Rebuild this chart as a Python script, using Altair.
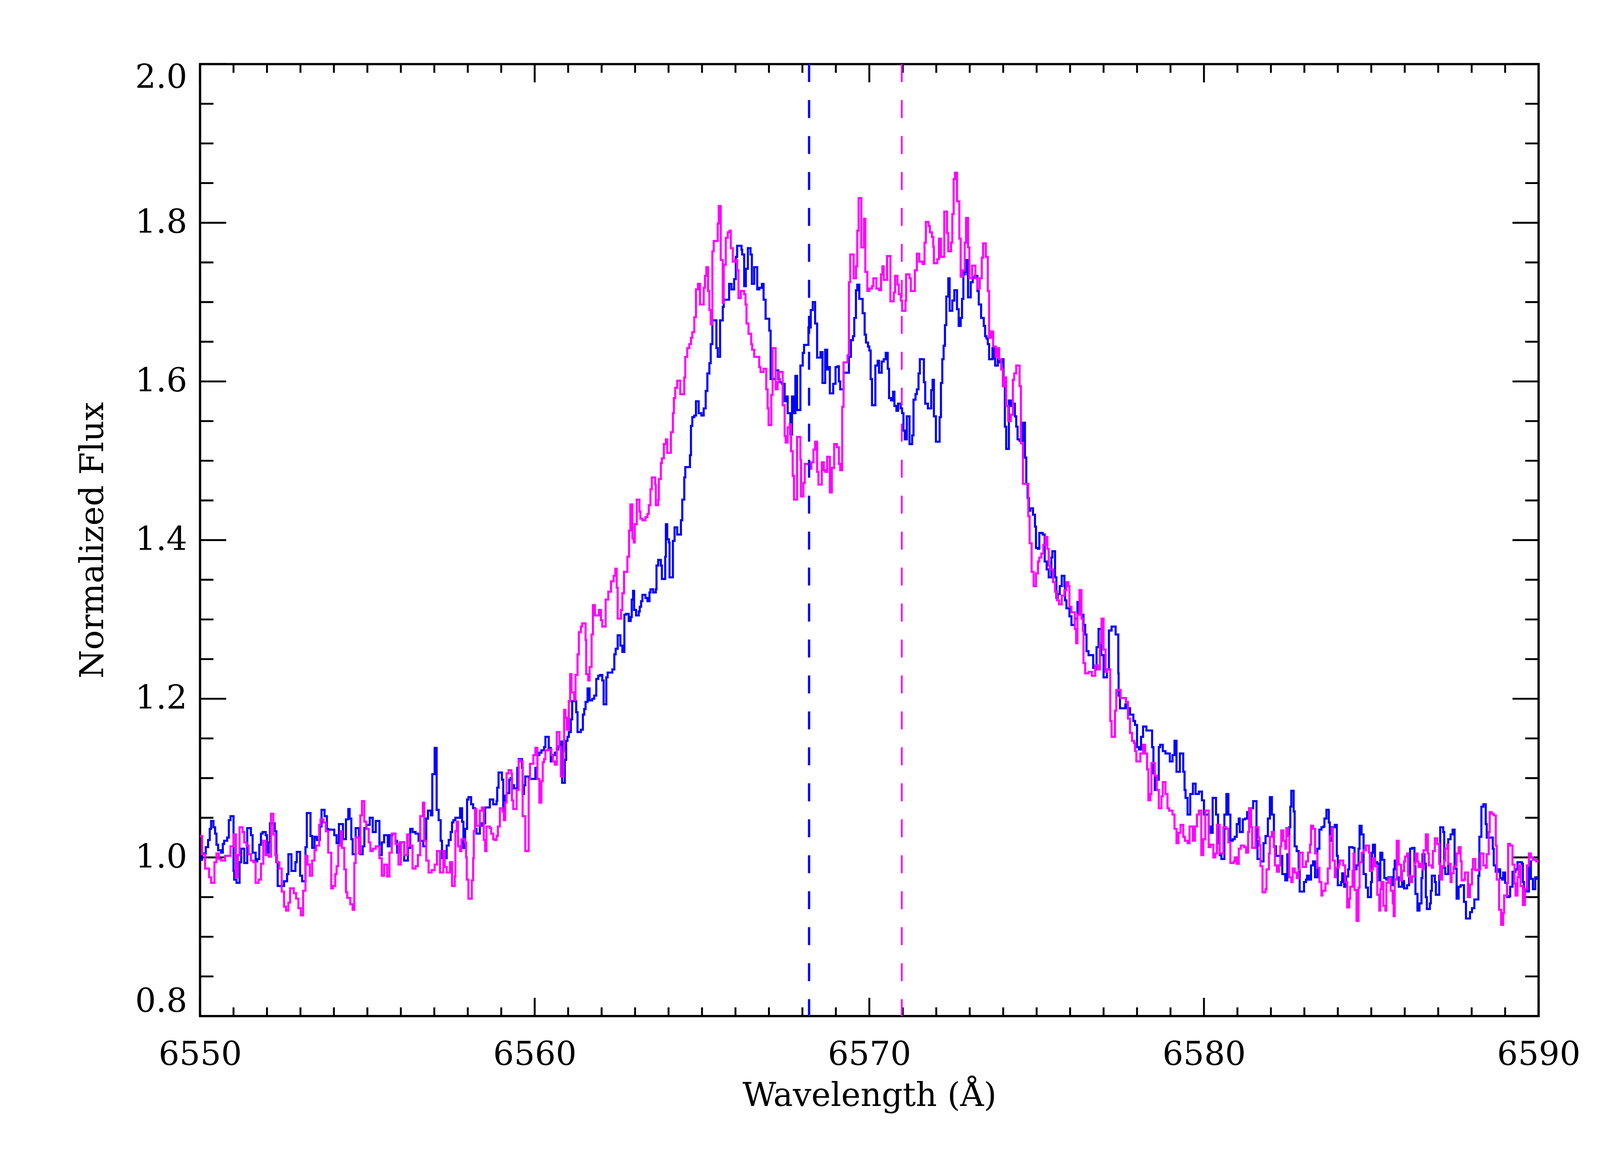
import altair as alt
import pandas as pd

# ---- blue spectrum: [wavelength (A), normalized flux] step starts ----
BLUE_A = [[6550.00,0.997],[6550.06,1.005],[6550.17,1.013],[6550.24,1.022],[6550.29,1.036],[6550.33,1.046],
[6550.40,1.038],[6550.45,1.030],[6550.49,1.016],[6550.54,1.009],[6550.63,1.006],[6550.68,1.017],[6550.72,1.021],
[6550.81,1.025],[6550.86,1.047],[6550.91,1.052],[6551.00,0.983],[6551.02,0.972],[6551.09,0.968],[6551.18,0.994],
[6551.23,1.011],[6551.32,0.993],[6551.41,1.037],[6551.52,1.028],[6551.57,1.006],[6551.66,0.995],[6551.71,0.998],
[6551.77,1.016],[6551.82,1.030],[6551.87,1.032],[6551.96,1.028],[6552.00,1.006],[6552.05,1.019],[6552.09,1.043],
[6552.23,1.033],[6552.28,0.994],[6552.32,0.964],[6552.51,0.970],[6552.60,0.979],[6552.64,1.004],[6552.73,0.983],
[6552.85,0.994],[6552.89,1.007],[6552.99,0.977],[6553.05,0.970],[6553.15,1.013],[6553.19,1.056],[6553.30,1.027],
[6553.35,1.012],[6553.42,1.026],[6553.49,1.022],[6553.58,1.039],[6553.63,1.060],[6553.72,1.052],[6553.79,1.036],
[6553.83,1.035],[6554.01,1.028],[6554.08,1.018],[6554.15,1.042],[6554.27,1.023],[6554.36,1.048],[6554.43,1.061],
[6554.47,1.049],[6554.52,1.023],[6554.56,1.004],[6554.65,1.037],[6554.75,1.019],[6554.79,1.004],[6554.86,1.014],
[6554.91,1.037],[6554.97,1.041],[6555.07,1.050],[6555.16,1.032],[6555.25,1.046],[6555.36,1.003],[6555.43,1.019],
[6555.50,1.028],[6555.61,1.014],[6555.66,1.028],[6555.75,1.030],[6555.84,1.021],[6555.89,1.006],[6555.98,1.019],
[6556.10,0.996],[6556.21,1.012],[6556.28,1.036],[6556.35,1.032],[6556.44,1.030],[6556.53,1.021],[6556.67,1.014],
[6556.76,1.049],[6556.81,1.059],[6556.90,1.053],[6556.94,1.105],[6557.01,1.138]]
BLUE_B = [[6557.07,1.060],[6557.13,1.047],[6557.19,1.021],[6557.23,0.999],[6557.37,1.015],[6557.43,1.022],
[6557.49,1.032],[6557.53,1.044],[6557.57,1.047],[6557.63,1.050],[6557.77,1.062],[6557.83,1.045],[6557.87,1.012],
[6557.92,1.036],[6557.98,1.073],[6558.02,1.076],[6558.10,1.067],[6558.16,1.062],[6558.22,1.036],[6558.26,1.030],
[6558.36,1.040],[6558.42,1.043],[6558.52,1.063],[6558.66,1.073],[6558.76,1.067],[6558.86,1.071],[6558.88,1.088],
[6558.92,1.107],[6559.02,1.098],[6559.06,1.058],[6559.12,1.078],[6559.16,1.081],[6559.24,1.098],[6559.28,1.100],
[6559.32,1.091],[6559.38,1.087],[6559.48,1.113],[6559.52,1.124],[6559.62,1.113],[6559.64,1.080],[6559.68,1.091],
[6559.72,1.102],[6559.82,1.099],[6559.92,1.099],[6560.02,1.113],[6560.08,1.129],[6560.14,1.132],[6560.20,1.135],
[6560.28,1.139],[6560.32,1.152],[6560.42,1.138],[6560.48,1.121],[6560.54,1.129],[6560.60,1.132],[6560.66,1.136],
[6560.70,1.140],[6560.78,1.146],[6560.82,1.094],[6560.90,1.123],[6560.94,1.147],[6560.98,1.152],[6561.02,1.158],
[6561.08,1.174],[6561.12,1.197],[6561.24,1.183],[6561.28,1.158],[6561.38,1.161],[6561.44,1.180],[6561.48,1.187],
[6561.52,1.196],[6561.58,1.213],[6561.64,1.198],[6561.72,1.200],[6561.78,1.204],[6561.84,1.225],[6561.90,1.229],
[6561.96,1.230],[6562.02,1.223],[6562.06,1.193],[6562.14,1.227],[6562.18,1.233],[6562.32,1.237],[6562.38,1.256],
[6562.42,1.263],[6562.48,1.280],[6562.56,1.267],[6562.62,1.259],[6562.68,1.306],[6562.73,1.307],[6562.81,1.298]]
BLUE_C = [[6562.87,1.303],[6562.90,1.325],[6562.94,1.336],[6562.97,1.312],[6563.03,1.305],[6563.11,1.310],
[6563.14,1.316],[6563.18,1.323],[6563.22,1.331],[6563.31,1.327],[6563.37,1.323],[6563.43,1.334],[6563.46,1.338],
[6563.54,1.334],[6563.62,1.338],[6563.64,1.368],[6563.69,1.375],[6563.77,1.368],[6563.80,1.351],[6563.90,1.379],
[6563.92,1.420],[6563.96,1.401],[6564.01,1.397],[6564.03,1.353],[6564.13,1.399],[6564.18,1.416],[6564.26,1.407],
[6564.37,1.425],[6564.41,1.451],[6564.47,1.479],[6564.50,1.492],[6564.64,1.507],[6564.67,1.544],[6564.71,1.555],
[6564.77,1.557],[6564.82,1.575],[6564.90,1.560],[6564.98,1.557],[6565.05,1.566],[6565.11,1.588],[6565.16,1.610],
[6565.22,1.623],[6565.26,1.647],[6565.31,1.677],[6565.43,1.642],[6565.47,1.631],[6565.54,1.677],[6565.62,1.694],
[6565.65,1.703],[6565.81,1.723],[6565.88,1.716],[6565.96,1.729],[6566.01,1.757],[6566.05,1.771],[6566.18,1.766],
[6566.20,1.760],[6566.26,1.720],[6566.31,1.742],[6566.37,1.768],[6566.45,1.760],[6566.49,1.723],[6566.56,1.744],
[6566.65,1.716],[6566.71,1.718],[6566.79,1.723],[6566.84,1.703],[6566.90,1.679],[6567.01,1.664],[6567.05,1.603],
[6567.20,1.614],[6567.28,1.603],[6567.32,1.599],[6567.39,1.597],[6567.47,1.575],[6567.50,1.581],[6567.56,1.560],
[6567.64,1.533],[6567.69,1.581],[6567.74,1.560],[6567.79,1.607],[6567.84,1.564],[6567.94,1.620],[6568.01,1.636],
[6568.05,1.646],[6568.18,1.668]]
BLUE_D = [[6568.25,1.690],[6568.31,1.700],[6568.38,1.673],[6568.44,1.630],[6568.54,1.637],[6568.60,1.598],
[6568.68,1.640],[6568.74,1.615],[6568.78,1.618],[6568.82,1.585],[6568.92,1.597],[6568.99,1.618],[6569.05,1.619],
[6569.09,1.600],[6569.13,1.590],[6569.23,1.611],[6569.39,1.631],[6569.45,1.652],[6569.51,1.657],[6569.55,1.680],
[6569.60,1.715],[6569.64,1.722],[6569.70,1.704],[6569.80,1.686],[6569.86,1.659],[6569.90,1.649],[6569.96,1.644],
[6570.00,1.639],[6570.04,1.603],[6570.08,1.570],[6570.18,1.620],[6570.25,1.626],[6570.29,1.611],[6570.37,1.625],
[6570.43,1.628],[6570.49,1.636],[6570.55,1.616],[6570.59,1.579],[6570.65,1.576],[6570.71,1.587],[6570.75,1.569],
[6570.81,1.563],[6570.86,1.572],[6570.94,1.566],[6570.98,1.560],[6571.02,1.538],[6571.06,1.527],[6571.12,1.556],
[6571.20,1.521],[6571.28,1.532],[6571.32,1.577],[6571.38,1.584],[6571.42,1.590],[6571.47,1.610],[6571.51,1.628],
[6571.63,1.599],[6571.67,1.572],[6571.75,1.566],[6571.85,1.589],[6571.89,1.602],[6571.93,1.556],[6571.99,1.524],
[6572.10,1.555],[6572.14,1.598],[6572.18,1.628],[6572.22,1.645],[6572.26,1.671],[6572.30,1.707],[6572.36,1.730],
[6572.40,1.689],[6572.48,1.702],[6572.54,1.715],[6572.62,1.691],[6572.67,1.670],[6572.73,1.680],[6572.77,1.704],
[6572.81,1.735],[6572.85,1.738],[6572.89,1.753],[6572.93,1.735],[6572.95,1.706],[6573.03,1.725],[6573.09,1.731],
[6573.15,1.733],[6573.23,1.714],[6573.27,1.697],[6573.34,1.680],[6573.42,1.670],[6573.46,1.657],[6573.50,1.654],
[6573.54,1.647],[6573.58,1.628],[6573.68,1.642],[6573.72,1.629],[6573.76,1.620],[6573.84,1.628],[6573.90,1.624],
[6573.95,1.628],[6574.01,1.598],[6574.05,1.543],[6574.09,1.515],[6574.17,1.576],[6574.23,1.569],[6574.29,1.572],
[6574.35,1.556],[6574.39,1.543],[6574.43,1.527]]
BLUE_E = [[6574.49,1.525],[6574.59,1.548],[6574.65,1.504],[6574.69,1.471],[6574.73,1.453],[6574.77,1.437],
[6574.81,1.440],[6574.89,1.432],[6574.95,1.417],[6574.98,1.390],[6575.04,1.389],[6575.08,1.409],[6575.18,1.407],
[6575.24,1.373],[6575.30,1.363],[6575.36,1.353],[6575.44,1.378],[6575.47,1.386],[6575.55,1.353],[6575.59,1.327],
[6575.63,1.332],[6575.69,1.342],[6575.75,1.355],[6575.83,1.342],[6575.85,1.324],[6575.89,1.314],[6575.98,1.304],
[6576.04,1.293],[6576.14,1.301],[6576.22,1.322],[6576.28,1.306],[6576.40,1.293],[6576.45,1.281],[6576.49,1.260],
[6576.55,1.255],[6576.69,1.239],[6576.75,1.237],[6576.79,1.265],[6576.85,1.288],[6576.93,1.255],[6577.00,1.227],
[6577.10,1.237],[6577.16,1.286],[6577.24,1.291],[6577.36,1.281],[6577.44,1.232],[6577.45,1.204],[6577.49,1.188],
[6577.65,1.193],[6577.71,1.188],[6577.79,1.180],[6577.89,1.172],[6577.94,1.167],[6578.00,1.139],[6578.06,1.136],
[6578.12,1.152],[6578.18,1.165],[6578.28,1.160],[6578.45,1.139],[6578.49,1.106],[6578.53,1.085],[6578.59,1.098],
[6578.65,1.139],[6578.69,1.142],[6578.77,1.134],[6578.85,1.131],[6578.98,1.121],[6579.06,1.129],[6579.12,1.147],
[6579.18,1.108],[6579.28,1.131],[6579.38,1.108],[6579.42,1.085],[6579.45,1.075],[6579.51,1.054],[6579.59,1.080],
[6579.67,1.093],[6579.75,1.080],[6579.85,1.083],[6579.94,1.072],[6580.00,1.054],[6580.14,1.039],[6580.20,1.031],
[6580.26,1.075],[6580.36,1.054],[6580.42,1.018],[6580.47,1.003]]
BLUE_F = [[6580.52,0.998],[6580.61,1.054],[6580.67,1.080],[6580.73,1.054],[6580.79,1.021],[6580.86,1.023],
[6580.92,1.026],[6580.98,1.042],[6581.04,1.049],[6581.07,1.032],[6581.16,1.048],[6581.23,1.049],[6581.29,1.057],
[6581.35,1.062],[6581.47,1.071],[6581.57,1.021],[6581.60,0.998],[6581.69,0.995],[6581.78,1.018],[6581.84,1.027],
[6581.91,1.049],[6581.97,1.076],[6582.03,1.054],[6582.09,1.014],[6582.15,1.002],[6582.34,0.979],[6582.43,0.971],
[6582.49,1.004],[6582.55,1.038],[6582.58,1.064],[6582.61,1.084],[6582.68,1.058],[6582.71,1.014],[6582.77,1.008],
[6582.83,0.983],[6582.86,0.957],[6582.99,0.969],[6583.05,0.972],[6583.08,0.977],[6583.14,0.972],[6583.20,0.990],
[6583.26,0.995],[6583.32,0.975],[6583.39,1.011],[6583.45,1.035],[6583.51,1.038],[6583.57,1.039],[6583.60,1.049],
[6583.66,1.060],[6583.73,1.044],[6583.76,1.021],[6583.82,1.038],[6583.91,1.041],[6583.97,1.002],[6584.00,0.965],
[6584.10,0.969],[6584.13,0.980],[6584.19,0.963],[6584.25,0.976],[6584.31,0.985],[6584.34,1.013],[6584.44,1.012],
[6584.50,0.985],[6584.56,0.990],[6584.62,1.011],[6584.65,1.040],[6584.71,1.029],[6584.77,0.979],[6584.84,0.962],
[6584.90,0.950],[6584.99,0.969],[6585.02,1.006],[6585.05,1.016],[6585.11,0.994],[6585.18,0.992],[6585.24,0.971],
[6585.27,1.006],[6585.33,0.997],[6585.39,0.974],[6585.45,0.972],[6585.51,0.975],[6585.61,0.965],[6585.67,0.985],
[6585.70,0.996],[6585.76,0.975],[6585.82,0.963],[6585.92,0.970],[6585.98,0.961],[6586.07,0.965],[6586.13,0.974],
[6586.16,1.011],[6586.22,1.012],[6586.29,0.989],[6586.32,0.954],[6586.38,0.933],[6586.44,0.942],[6586.50,0.974],
[6586.53,1.004],[6586.59,0.992],[6586.63,0.950],[6586.66,0.935],[6586.75,0.942],[6586.78,0.958],[6586.81,0.977],
[6586.90,0.969],[6586.93,0.953],[6587.03,0.977],[6587.06,1.038],[6587.15,1.032],[6587.18,0.987],[6587.21,0.979],
[6587.30,1.023],[6587.37,1.029],[6587.43,1.035],[6587.49,0.986],[6587.55,0.948],[6587.61,0.963],[6587.67,0.965],
[6587.77,0.944],[6587.83,0.923],[6587.95,0.931],[6588.01,0.936],[6588.08,0.947],[6588.20,0.977],[6588.23,1.026],
[6588.29,1.064],[6588.35,1.067],[6588.42,1.042],[6588.45,1.025],[6588.63,1.011],[6588.66,0.990],[6588.72,0.982],
[6588.79,0.985],[6588.85,0.974],[6588.91,0.972],[6588.94,0.981],[6589.00,0.968],[6589.06,0.950],[6589.12,0.951],
[6589.15,0.963],[6589.22,0.982],[6589.31,0.985],[6589.37,0.994],[6589.50,0.992],[6589.53,0.969],[6589.56,0.943],
[6589.59,0.960],[6589.65,0.957],[6589.71,0.987],[6589.74,0.995],[6589.77,0.973],[6589.83,0.960],[6589.90,0.975],
[6589.96,0.973],[6590.00,0.973]]

# ---- magenta spectrum ----
MAG_A = [[6550.00,1.027],[6550.06,1.004],[6550.15,0.986],[6550.27,0.975],[6550.33,0.968],[6550.43,0.994],
[6550.49,1.005],[6550.56,0.998],[6550.63,0.996],[6550.75,1.002],[6550.91,1.014],[6551.00,1.029],[6551.07,0.975],
[6551.13,1.003],[6551.18,1.038],[6551.27,1.032],[6551.32,1.019],[6551.39,1.015],[6551.45,1.004],[6551.52,0.996],
[6551.59,0.994],[6551.66,0.968],[6551.75,0.972],[6551.82,0.992],[6551.89,1.021],[6551.96,1.003],[6552.05,1.001],
[6552.12,1.055],[6552.19,1.029],[6552.25,1.003],[6552.30,0.994],[6552.37,0.986],[6552.44,0.957],[6552.51,0.938],
[6552.57,0.933],[6552.64,0.943],[6552.69,0.961],[6552.80,0.955],[6552.87,0.948],[6552.94,0.936],[6553.01,0.927],
[6553.08,0.958],[6553.15,1.002],[6553.21,0.991],[6553.28,0.977],[6553.35,0.996],[6553.42,1.009],[6553.47,1.015],
[6553.56,1.041],[6553.60,1.048],[6553.69,1.044],[6553.76,1.033],[6553.83,1.006],[6553.92,0.961],[6553.97,0.964],
[6554.04,0.979],[6554.08,0.989],[6554.13,1.015],[6554.20,1.033],[6554.24,1.012],[6554.31,0.985],[6554.36,0.956],
[6554.40,0.949],[6554.49,0.941],[6554.56,0.934],[6554.61,0.993],[6554.65,1.025],[6554.75,1.005],[6554.79,1.053],
[6554.84,1.071],[6554.91,1.045],[6554.97,1.036],[6555.04,1.019],[6555.09,1.008],[6555.16,1.011],[6555.25,1.014],
[6555.36,0.999],[6555.43,0.977],[6555.50,0.991],[6555.59,0.976],[6555.66,1.006],[6555.73,1.030],[6555.84,1.017],
[6555.93,0.991],[6556.00,1.019],[6556.10,1.003],[6556.19,1.029],[6556.26,1.015],[6556.35,0.986],[6556.44,0.989],
[6556.51,1.003],[6556.58,1.052],[6556.66,1.069],[6556.70,1.021],[6556.76,0.996],[6556.83,0.981],[6556.92,0.984],
[6557.01,0.991]]
MAG_B = [[6557.08,1.008],[6557.17,0.981],[6557.27,1.008],[6557.31,0.988],[6557.37,0.981],[6557.47,0.994],
[6557.53,0.964],[6557.61,0.976],[6557.63,1.033],[6557.67,1.045],[6557.71,1.014],[6557.77,1.008],[6557.81,1.023],
[6557.91,1.019],[6557.95,1.000],[6557.97,0.972],[6558.02,0.948],[6558.12,0.971],[6558.16,0.999],[6558.18,1.033],
[6558.22,1.061],[6558.26,1.040],[6558.36,1.059],[6558.42,1.063],[6558.48,1.022],[6558.52,1.008],[6558.56,1.039],
[6558.66,1.037],[6558.70,1.030],[6558.76,1.023],[6558.80,1.022],[6558.86,1.027],[6558.90,1.039],[6558.96,1.062],
[6559.04,1.058],[6559.08,1.047],[6559.12,1.069],[6559.16,1.106],[6559.22,1.110],[6559.30,1.106],[6559.32,1.072],
[6559.36,1.061],[6559.46,1.085],[6559.52,1.123],[6559.58,1.121],[6559.64,1.052],[6559.72,1.008],[6559.82,1.099],
[6559.86,1.118],[6559.96,1.129],[6560.02,1.138],[6560.08,1.099],[6560.14,1.069],[6560.20,1.096],[6560.24,1.120],
[6560.28,1.124],[6560.32,1.135],[6560.40,1.136],[6560.50,1.129],[6560.54,1.121],[6560.60,1.117],[6560.66,1.158],
[6560.74,1.139],[6560.78,1.102],[6560.86,1.134],[6560.88,1.186],[6560.92,1.176],[6560.96,1.161],[6561.02,1.197],
[6561.06,1.231],[6561.10,1.208],[6561.18,1.198],[6561.22,1.230],[6561.28,1.256],[6561.32,1.284],[6561.38,1.291],
[6561.42,1.295],[6561.52,1.274],[6561.54,1.231],[6561.60,1.223],[6561.64,1.240],[6561.70,1.281],[6561.74,1.318],
[6561.80,1.305],[6561.92,1.312],[6561.98,1.299],[6562.02,1.291],[6562.12,1.325],[6562.20,1.335],[6562.28,1.348],
[6562.36,1.355]]
MAG_C = [[6562.41,1.364],[6562.45,1.340],[6562.48,1.301],[6562.58,1.312],[6562.62,1.333],[6562.67,1.360],
[6562.77,1.379],[6562.82,1.412],[6562.86,1.445],[6562.92,1.402],[6562.96,1.397],[6562.99,1.420],[6563.05,1.451],
[6563.13,1.436],[6563.16,1.427],[6563.22,1.425],[6563.31,1.429],[6563.37,1.433],[6563.41,1.444],[6563.46,1.464],
[6563.50,1.479],[6563.60,1.470],[6563.62,1.444],[6563.69,1.451],[6563.71,1.477],[6563.77,1.497],[6563.80,1.503],
[6563.86,1.521],[6563.92,1.527],[6563.96,1.510],[6564.07,1.536],[6564.13,1.560],[6564.16,1.579],[6564.20,1.592],
[6564.26,1.601],[6564.35,1.584],[6564.47,1.605],[6564.50,1.631],[6564.56,1.642],[6564.62,1.647],[6564.67,1.655],
[6564.71,1.662],[6564.77,1.681],[6564.82,1.716],[6564.88,1.723],[6564.94,1.697],[6565.05,1.718],[6565.09,1.733],
[6565.13,1.744],[6565.18,1.714],[6565.22,1.690],[6565.26,1.672],[6565.31,1.764],[6565.35,1.777],[6565.47,1.799],
[6565.50,1.821],[6565.56,1.753],[6565.62,1.699],[6565.65,1.747],[6565.71,1.781],[6565.77,1.788],[6565.82,1.790],
[6565.86,1.768],[6565.92,1.751],[6565.99,1.753],[6566.05,1.740],[6566.09,1.705],[6566.16,1.714],[6566.26,1.710],
[6566.30,1.697],[6566.33,1.673],[6566.39,1.660],[6566.47,1.647],[6566.50,1.640],[6566.56,1.631],[6566.71,1.618],
[6566.75,1.612],[6566.84,1.616],[6566.92,1.590],[6566.96,1.566],[6566.99,1.545],[6567.07,1.583],[6567.11,1.642],
[6567.20,1.590],[6567.26,1.599],[6567.30,1.612],[6567.41,1.570],[6567.47,1.531],[6567.50,1.523],[6567.56,1.542],
[6567.62,1.546],[6567.66,1.512],[6567.71,1.481],[6567.75,1.451],[6567.84,1.530],[6567.94,1.501],[6567.96,1.455],
[6568.03,1.472],[6568.07,1.496]]
MAG_D = [[6568.21,1.490],[6568.27,1.498],[6568.33,1.514],[6568.38,1.524],[6568.44,1.486],[6568.48,1.470],
[6568.58,1.498],[6568.64,1.488],[6568.68,1.486],[6568.74,1.505],[6568.82,1.460],[6568.88,1.491],[6568.95,1.521],
[6569.03,1.517],[6569.09,1.496],[6569.13,1.488],[6569.19,1.568],[6569.23,1.624],[6569.35,1.633],[6569.39,1.725],
[6569.43,1.760],[6569.53,1.730],[6569.60,1.745],[6569.64,1.790],[6569.68,1.831],[6569.76,1.769],[6569.84,1.805],
[6569.88,1.738],[6569.94,1.714],[6570.00,1.717],[6570.08,1.720],[6570.12,1.730],[6570.21,1.717],[6570.29,1.715],
[6570.35,1.735],[6570.39,1.745],[6570.43,1.728],[6570.53,1.758],[6570.63,1.701],[6570.73,1.712],[6570.77,1.733],
[6570.84,1.722],[6570.88,1.710],[6570.94,1.702],[6570.98,1.689],[6571.08,1.702],[6571.10,1.735],[6571.20,1.730],
[6571.24,1.714],[6571.36,1.740],[6571.42,1.761],[6571.49,1.751],[6571.59,1.748],[6571.65,1.775],[6571.69,1.801],
[6571.77,1.796],[6571.81,1.788],[6571.87,1.782],[6571.91,1.770],[6571.93,1.749],[6572.03,1.754],[6572.08,1.780],
[6572.14,1.757],[6572.24,1.814],[6572.32,1.787],[6572.36,1.764],[6572.44,1.775],[6572.48,1.811],[6572.52,1.855],
[6572.56,1.863],[6572.62,1.827],[6572.69,1.780],[6572.73,1.732],[6572.79,1.740],[6572.85,1.775],[6572.89,1.806],
[6572.95,1.769],[6572.99,1.730],[6573.07,1.746],[6573.17,1.730],[6573.23,1.717],[6573.30,1.730],[6573.36,1.756],
[6573.40,1.774],[6573.48,1.757],[6573.54,1.714],[6573.58,1.655],[6573.64,1.663],[6573.70,1.644],[6573.78,1.631],
[6573.82,1.642],[6573.88,1.628],[6573.94,1.615],[6573.99,1.594],[6574.05,1.605],[6574.09,1.569],[6574.15,1.550],
[6574.23,1.558],[6574.29,1.602],[6574.33,1.610],[6574.39,1.620],[6574.49,1.594]]
MAG_E = [[6574.53,1.522],[6574.59,1.471],[6574.75,1.430],[6574.79,1.396],[6574.85,1.360],[6574.91,1.342],
[6574.98,1.358],[6575.04,1.373],[6575.08,1.378],[6575.14,1.383],[6575.20,1.394],[6575.26,1.404],[6575.32,1.389],
[6575.36,1.368],[6575.40,1.363],[6575.49,1.347],[6575.55,1.335],[6575.61,1.324],[6575.67,1.319],[6575.75,1.330],
[6575.83,1.337],[6575.89,1.347],[6575.95,1.342],[6575.98,1.316],[6576.04,1.309],[6576.14,1.288],[6576.18,1.270],
[6576.22,1.306],[6576.28,1.337],[6576.34,1.301],[6576.38,1.286],[6576.40,1.245],[6576.45,1.232],[6576.55,1.234],
[6576.65,1.229],[6576.75,1.242],[6576.83,1.237],[6576.89,1.270],[6576.94,1.301],[6577.00,1.262],[6577.06,1.234],
[6577.10,1.237],[6577.20,1.172],[6577.24,1.152],[6577.34,1.185],[6577.38,1.211],[6577.51,1.201],[6577.67,1.196],
[6577.73,1.175],[6577.79,1.157],[6577.85,1.147],[6577.91,1.144],[6577.94,1.134],[6577.98,1.121],[6578.10,1.131],
[6578.18,1.142],[6578.24,1.131],[6578.30,1.111],[6578.34,1.072],[6578.40,1.080],[6578.43,1.119],[6578.53,1.103],
[6578.59,1.085],[6578.65,1.062],[6578.73,1.077],[6578.77,1.095],[6578.85,1.080],[6578.91,1.062],[6578.96,1.059],
[6579.06,1.054],[6579.12,1.036],[6579.18,1.018],[6579.24,1.031],[6579.30,1.041],[6579.38,1.026],[6579.43,1.021],
[6579.51,1.018],[6579.57,1.039],[6579.67,1.021],[6579.73,1.039],[6579.79,1.054],[6579.85,1.059],[6579.92,1.003],
[6579.98,1.023],[6580.04,1.059],[6580.14,1.013],[6580.20,1.016],[6580.28,1.000],[6580.34,1.005],[6580.39,1.041],
[6580.47,1.005]]
MAG_F = [[6580.58,1.038],[6580.67,1.036],[6580.73,1.019],[6580.79,0.993],[6580.89,0.995],[6580.92,1.000],
[6580.98,0.992],[6581.04,1.011],[6581.10,1.015],[6581.20,1.013],[6581.26,1.006],[6581.32,1.032],[6581.35,1.062],
[6581.41,1.038],[6581.44,1.012],[6581.54,1.038],[6581.63,1.025],[6581.66,1.015],[6581.69,0.989],[6581.75,0.956],
[6581.84,0.960],[6581.87,0.985],[6581.94,1.005],[6581.97,1.026],[6582.03,1.032],[6582.09,1.013],[6582.12,0.990],
[6582.18,0.982],[6582.24,0.990],[6582.28,1.014],[6582.31,1.034],[6582.37,1.021],[6582.43,1.011],[6582.46,1.037],
[6582.52,1.027],[6582.55,0.975],[6582.61,0.969],[6582.65,0.986],[6582.71,0.981],[6582.77,0.974],[6582.83,0.985],
[6582.86,1.006],[6582.95,0.988],[6583.05,0.995],[6583.11,1.006],[6583.17,1.016],[6583.20,1.040],[6583.26,1.036],
[6583.32,1.005],[6583.39,0.987],[6583.45,0.969],[6583.51,0.952],[6583.54,0.958],[6583.63,0.967],[6583.70,0.986],
[6583.76,1.027],[6583.82,1.037],[6583.85,0.996],[6583.91,0.975],[6583.94,0.987],[6584.03,0.991],[6584.06,0.996],
[6584.16,0.990],[6584.22,0.969],[6584.28,0.937],[6584.34,0.948],[6584.37,0.963],[6584.44,0.983],[6584.47,1.005],
[6584.50,0.959],[6584.56,0.920],[6584.62,0.962],[6584.65,0.994],[6584.71,1.006],[6584.77,1.009],[6584.84,1.015],
[6584.93,1.006],[6584.96,0.983],[6585.02,0.985],[6585.05,0.999],[6585.11,0.989],[6585.18,0.953],[6585.24,0.933],
[6585.27,0.960],[6585.30,0.969],[6585.36,0.939],[6585.42,0.933],[6585.45,0.968],[6585.51,0.974],[6585.58,0.958],
[6585.64,0.942],[6585.67,0.926],[6585.70,0.972],[6585.76,1.021],[6585.82,0.991],[6585.89,0.971],[6585.92,0.983],
[6585.98,0.995],[6586.01,1.001],[6586.07,1.005],[6586.10,0.977],[6586.16,0.969],[6586.22,0.976],[6586.29,0.993],
[6586.32,1.005],[6586.38,0.995],[6586.41,0.988],[6586.47,0.992],[6586.53,0.985],[6586.56,1.009],[6586.63,1.029],
[6586.69,1.005],[6586.72,0.990],[6586.81,0.987],[6586.84,1.008],[6586.90,1.024],[6586.97,1.017],[6587.03,0.992],
[6587.06,0.972],[6587.12,0.989],[6587.18,0.996],[6587.21,1.011],[6587.27,1.016],[6587.30,0.992],[6587.37,0.969],
[6587.40,0.980],[6587.46,0.988],[6587.52,0.990],[6587.55,1.005],[6587.61,1.013],[6587.67,0.995],[6587.70,0.971],
[6587.77,0.972],[6587.80,0.981],[6587.89,0.950],[6587.95,0.966],[6588.01,0.985],[6588.04,0.998],[6588.11,0.984],
[6588.20,0.985],[6588.26,1.005],[6588.35,0.990],[6588.42,0.987],[6588.45,1.004],[6588.51,1.032],[6588.54,1.057],
[6588.60,1.055],[6588.66,1.053],[6588.72,1.015],[6588.75,0.972],[6588.82,0.934],[6588.88,0.915],[6588.94,0.930],
[6588.97,0.952],[6589.06,0.968],[6589.09,1.017],[6589.15,1.015],[6589.22,0.991],[6589.28,0.967],[6589.31,0.952],
[6589.37,0.975],[6589.40,0.990],[6589.46,0.964],[6589.53,0.940],[6589.59,0.960],[6589.65,0.990],[6589.71,1.005],
[6589.77,1.000],[6589.83,0.997],[6589.93,0.995],[6590.00,0.995]]

BLUE_MARK_WL = 6568.2    # blue dashed reference line
MAG_MARK_WL = 6570.97    # magenta dashed reference line

X_MAJOR = [6550, 6560, 6570, 6580, 6590]
X_MINOR = [v for v in range(6551, 6590) if v % 10 != 0]
Y_MAJOR = [0.8, 1.0, 1.2, 1.4, 1.6, 1.8, 2.0]
Y_MINOR = [0.85, 0.90, 0.95, 1.05, 1.10, 1.15, 1.25, 1.30, 1.35, 1.45, 1.50, 1.55,
           1.65, 1.70, 1.75, 1.85, 1.90, 1.95]

XMIN, XMAX, YMIN, YMAX = 6550, 6590, 0.8, 2.0
BLUE = "#0000ff"
MAGENTA = "#ff00ff"
FONT = "DejaVu Serif"

def frame(rows):
    return pd.DataFrame(rows, columns=["wl", "flux"])

blue_df = frame(BLUE_A + BLUE_B + BLUE_C + BLUE_D + BLUE_E + BLUE_F)
mag_df = frame(MAG_A + MAG_B + MAG_C + MAG_D + MAG_E + MAG_F)

X_ENC = alt.X("wl:Q",
              scale=alt.Scale(domain=[XMIN, XMAX], nice=False, zero=False),
              axis=alt.Axis(values=X_MAJOR, format="d", title="Wavelength (Å)",
                            labelFlush=False, labelOverlap=False, labelLimit=0,
                            labelPadding=60, titlePadding=22))
Y_ENC = alt.Y("flux:Q",
              scale=alt.Scale(domain=[YMIN, YMAX], nice=False, zero=False),
              axis=alt.Axis(values=Y_MAJOR, format=".1f", title="Normalized Flux",
                            labelFlush=True, labelFlushOffset=6, labelOverlap=False,
                            labelLimit=0, labelPadding=34, titlePadding=66))

# tick marks drawn inward (IDL style) on all four sides
XT_MAJ, XT_MIN = 0.023, 0.011   # length in flux units
YT_MAJ, YT_MIN = 0.78, 0.40     # length in wavelength units
xt_rows = []
for v, L in [(v, XT_MAJ) for v in X_MAJOR] + [(v, XT_MIN) for v in X_MINOR]:
    xt_rows.append({"wl": v, "flux": YMIN, "flux2": YMIN + L})
    xt_rows.append({"wl": v, "flux": YMAX, "flux2": YMAX - L})
yt_rows = []
for v, L in [(v, YT_MAJ) for v in Y_MAJOR] + [(v, YT_MIN) for v in Y_MINOR]:
    yt_rows.append({"flux": v, "wl": XMIN, "wl2": XMIN + L})
    yt_rows.append({"flux": v, "wl": XMAX, "wl2": XMAX - L})

xticks = alt.Chart(pd.DataFrame(xt_rows)).mark_rule(color="black", strokeWidth=5).encode(
    x=X_ENC, y=Y_ENC, y2="flux2:Q")
yticks = alt.Chart(pd.DataFrame(yt_rows)).mark_rule(color="black", strokeWidth=5).encode(
    x=X_ENC, x2="wl2:Q", y=Y_ENC)

blue_line = alt.Chart(blue_df).mark_line(interpolate="step-after", color=BLUE,
                                         strokeWidth=5.5, strokeJoin="miter").encode(x=X_ENC, y=Y_ENC)
mag_line = alt.Chart(mag_df).mark_line(interpolate="step-after", color=MAGENTA,
                                       strokeWidth=5.5, strokeJoin="miter").encode(x=X_ENC, y=Y_ENC)

# dashed reference lines, drawn from the top edge downward
blue_v = alt.Chart(pd.DataFrame({"wl": [BLUE_MARK_WL], "flux": [YMAX], "flux2": [YMIN]})).mark_rule(
    color=BLUE, strokeWidth=6, strokeDash=[47.2, 47.2]).encode(x=X_ENC, y=Y_ENC, y2="flux2:Q")
mag_v = alt.Chart(pd.DataFrame({"wl": [MAG_MARK_WL], "flux": [YMAX], "flux2": [YMIN]})).mark_rule(
    color=MAGENTA, strokeWidth=4.5, strokeDash=[47.2, 47.2]).encode(x=X_ENC, y=Y_ENC, y2="flux2:Q")

chart = alt.layer(xticks, yticks, blue_line, mag_line, blue_v, mag_v).properties(
    width=3514, height=2499,
    padding={"left": 517, "top": 122, "right": 153, "bottom": 363},
    autosize=alt.AutoSizeParams(type="none"),
    background="white",
).configure_view(
    stroke="black", strokeWidth=6
).configure_axis(
    domain=False, ticks=False, tickSize=0, grid=False,
    labelFont=FONT, labelFontSize=86, labelColor="black",
    titleFont=FONT, titleFontSize=86, titleColor="black", titleFontWeight="normal",
)

chart.save("out.html", embed_options={"renderer": "svg", "actions": False})
